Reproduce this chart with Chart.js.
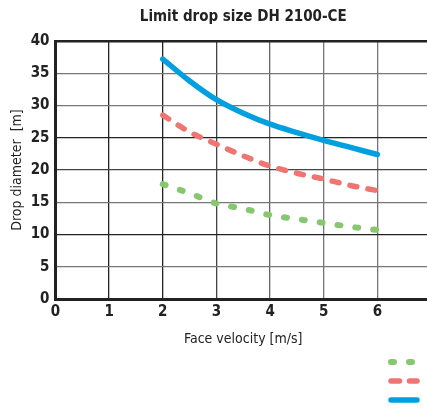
<!DOCTYPE html>
<html>
<head>
<meta charset="utf-8">
<script src="https://cdn.jsdelivr.net/npm/chart.js@4"></script>
<style>
html,body{margin:0;padding:0;overflow:hidden;background:#fff;}
#wrap{width:484px;height:412px;}
</style>
</head>
<body>
<div id="wrap"><canvas id="c" width="484" height="412"></canvas></div>
<script>
const titleText = "Limit drop size DH 2100-CE";
const xTitle = "Face velocity [m/s]";
const yTitle = "Drop diameter  [m]";
const velocity = [2, 2.5, 3, 3.5, 4, 4.5, 5, 5.5, 6];
const seriesLow = [17.8, 16.4, 14.8, 14.0, 13.0, 12.4, 11.8, 11.2, 10.7];
const seriesMid = [28.5, 25.9, 24.0, 22.2, 20.6, 19.5, 18.6, 17.6, 16.8];
const seriesHigh = [37.2, 33.8, 30.9, 28.8, 27.1, 25.8, 24.6, 23.5, 22.4];
const seriesLabels = ["Curve 1", "Curve 2", "Curve 3"];
const xTicks = [0, 1, 2, 3, 4, 5, 6, 7];
const yTicks = [0, 5, 10, 15, 20, 25, 30, 35, 40];

const pts = arr => arr.map((v, i) => ({x: velocity[i], y: v}));
const narrow = "'DejaVu Sans Condensed', 'Liberation Sans Narrow', 'Liberation Sans', Arial, sans-serif";

const extrasPlugin = {
  id: 'extras',
  afterDraw(chart) {
    const ctx = chart.ctx;
    const a = chart.chartArea;
    ctx.save();
    ctx.fillStyle = '#222';
    ctx.font = "bold 15px " + narrow;
    ctx.textAlign = 'center';
    ctx.textBaseline = 'middle';
    ctx.fillText(titleText, (a.left + a.right) / 2, 17);
    ctx.restore();
    const ys = [362, 381, 400];
    chart.data.datasets.forEach((ds, i) => {
      ctx.save();
      ctx.strokeStyle = ds.borderColor;
      ctx.lineWidth = ds.borderWidth;
      ctx.lineCap = 'round';
      ctx.setLineDash(ds.legendDash || []);
      ctx.beginPath();
      ctx.moveTo(391, ys[i]);
      ctx.lineTo(417, ys[i]);
      ctx.stroke();
      ctx.setLineDash([]);
      ctx.fillStyle = '#222';
      ctx.font = "13px " + narrow;
      ctx.textBaseline = 'middle';
      ctx.fillText(ds.label, 432, ys[i]);
      ctx.restore();
    });
  }
};

const gridColorX = ['#222', '#222', '#222', '#444', '#666', '#777', '#777', '#777'];
const gridColorY = ['#222', '#777', '#222', '#777', '#444', '#222', '#777', '#777', '#222'];

new Chart(document.getElementById('c'), {
  type: 'line',
  data: {
    datasets: [
      {label: seriesLabels[0], data: pts(seriesLow), borderColor: '#86c76f', borderWidth: 6,
       borderDash: [3, 15], legendDash: [3, 15], borderCapStyle: 'round', pointRadius: 0, cubicInterpolationMode: 'monotone', fill: false},
      {label: seriesLabels[1], data: pts(seriesMid), borderColor: '#ef7572', borderWidth: 5.5,
       borderDash: [7, 11.3], legendDash: [8.5, 10], borderCapStyle: 'round', pointRadius: 0, cubicInterpolationMode: 'monotone', fill: false},
      {label: seriesLabels[2], data: pts(seriesHigh), borderColor: '#00a0e0', borderWidth: 5.5,
       borderCapStyle: 'round', pointRadius: 0, cubicInterpolationMode: 'monotone', fill: false}
    ]
  },
  options: {
    responsive: false,
    animation: false,
    layout: {padding: {left: 0, right: 53, top: 41, bottom: 64}},
    plugins: {
      legend: {display: false},
      tooltip: {enabled: false},
      title: {display: false}
    },
    scales: {
      x: {
        type: 'linear', min: 0, max: 7,
        afterBuildTicks: s => { s.ticks = xTicks.map(v => ({value: v})); },
        afterFit: s => { s.height = 49; },
        ticks: {color: '#222', padding: 4, font: {family: narrow, size: 15, weight: 'bold'}},
        grid: {drawTicks: false, lineWidth: 1.3, color: c => gridColorX[c.index] || '#777'},
        border: {display: true, color: '#222', width: 3},
        title: {display: true, text: xTitle, color: '#222', font: {family: narrow, size: 14}, padding: {top: 6, bottom: 0}}
      },
      y: {
        type: 'linear', min: 0, max: 40,
        afterBuildTicks: s => { s.ticks = yTicks.map(v => ({value: v})); },
        afterFit: s => { s.width = 55.5; },
        ticks: {color: '#222', padding: 6, font: {family: narrow, size: 15, weight: 'bold'}},
        grid: {drawTicks: false, lineWidth: c => c.index === yTicks.length - 1 ? 2.5 : 1.3, color: c => gridColorY[c.index] || '#777'},
        border: {display: true, color: '#222', width: 3},
        title: {display: true, text: yTitle, color: '#222', font: {family: narrow, size: 14}, padding: {top: 9, bottom: 0}}
      }
    }
  },
  plugins: [extrasPlugin]
});
</script>
</body>
</html>
